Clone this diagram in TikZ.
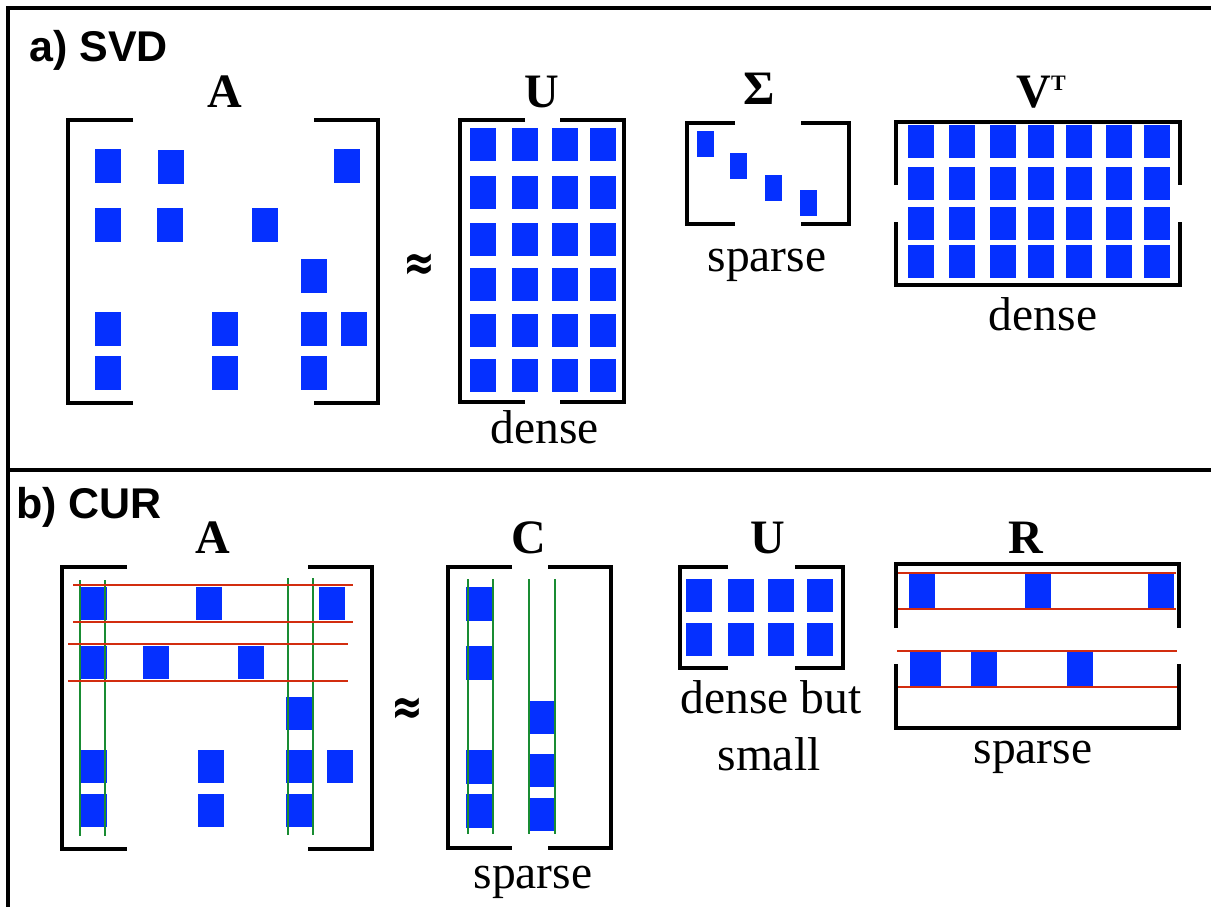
\documentclass[tikz,border=0pt]{standalone}
\usepackage{fontspec}
\setmainfont{Liberation Serif}
\newfontfamily\headfont{Liberation Sans}
\newfontfamily\symfont{DejaVu Sans}
\definecolor{cellblue}{RGB}{5,48,255}
\definecolor{selgreen}{RGB}{25,140,50}
\definecolor{selred}{RGB}{210,45,15}

% square brackets on the left and right (L, R, top, bottom, end of left arm, start of right arm)
\newcommand\vbrackets[6]{%
  \draw[brk] (#5,#3) -- (#1,#3) -- (#1,#4) -- (#5,#4);
  \draw[brk] (#6,#3) -- (#2,#3) -- (#2,#4) -- (#6,#4);}
% brackets turned on their side (L, R, top, bottom, end of upper legs, start of lower legs)
\newcommand\hbrackets[6]{%
  \draw[brk] (#1,#5) -- (#1,#3) -- (#2,#3) -- (#2,#5);
  \draw[brk] (#1,#6) -- (#1,#4) -- (#2,#4) -- (#2,#6);}

\begin{document}
\begin{tikzpicture}[x=1pt,y=-1pt,
  brk/.style={line width=4pt, line join=miter},
  frameline/.style={line width=3.5pt},
  cell/.style={fill=cellblue},
  colsel/.style={draw=selgreen, line width=2.5pt},
  rowsel/.style={draw=selred, line width=2.5pt},
  lbl/.style={inner sep=0pt, anchor=base, font=\fontsize{48}{56}\selectfont\bfseries},
  word/.style={inner sep=0pt, anchor=base, font=\fontsize{47.5}{56}\selectfont},
  head/.style={inner sep=0pt, anchor=base west, font=\headfont\bfseries\fontsize{43}{50}\selectfont},
  approx/.style={inner sep=0pt, yscale=1.35, font=\symfont\bfseries\fontsize{38}{44}\selectfont}
]
\useasboundingbox (0,0) rectangle (1211,907);

% outer frame and separator
\draw[frameline] (8,907) -- (8,8) -- (1211,8);
\draw[frameline] (8,470) -- (1211,470);

% ---------- a) SVD ----------
\node[head] (hsvd) at (29,62) {a) SVD};

% A
\node[lbl] (la) at (225,107) {A};
\foreach \x/\y in {95/149,158/150,334/149,95/208,157/208,252/208,301/259,
                   95/312,212/312,301/312,341/312,95/356,212/356,301/356}
  \fill[cell] (\x,\y) rectangle ++(26,34);
\vbrackets{68}{378}{120}{403}{133}{314}
\node[approx] (ap1) at (419,267) {≈};

% U
\node[lbl] (lu) at (542,107) {U};
\foreach \x in {470,512,552,590}
  \foreach \y in {128,176,223,268,314,359}
    \fill[cell] (\x,\y) rectangle ++(26,33);
\vbrackets{460}{624}{120}{402}{525}{560}
\node[word] (du) at (545,443) {dense};

% Sigma
\node[lbl] (ls) at (759,104) {Σ};
\foreach \x/\y in {697/131,730/153,765/175,800/190}
  \fill[cell] (\x,\y) rectangle ++(17,26);
\vbrackets{687}{849}{123}{224}{735}{801}
\node[word] (ss) at (767,271) {sparse};

% V transpose
\node[lbl] (lv) at (1041,107) {V\raisebox{17pt}{\fontsize{22}{22}\selectfont T}};
\foreach \x in {908,949,990,1028,1066,1106,1144}
  \foreach \y in {125,167,207,245}
    \fill[cell] (\x,\y) rectangle ++(26,33);
\hbrackets{896}{1180}{122}{285}{185}{222}
\node[word] (dv) at (1043,330) {dense};

% ---------- b) CUR ----------
\node[head] (hcur) at (16,518) {b) CUR};

% A with selected columns and rows
\node[lbl] (lb) at (213,553) {A};
\foreach \x/\y in {81/587,196/587,319/587,81/646,143/646,238/646,286/697,
                   81/750,198/750,286/750,327/750,81/794,198/794,286/794}
  \fill[cell] (\x,\y) rectangle ++(26,33);
\draw[colsel] (80,580) -- (80,836);
\draw[colsel] (105,580) -- (105,836);
\draw[colsel] (288,578) -- (288,835);
\draw[colsel] (313,578) -- (313,835);
\draw[rowsel] (73,585) -- (353,585);
\draw[rowsel] (73,622) -- (353,622);
\draw[rowsel] (68,644) -- (348,644);
\draw[rowsel] (68,681) -- (348,681);
\vbrackets{62}{372}{567}{849}{127}{308}
\node[approx] (ap2) at (407,711) {≈};

% C
\node[lbl] (lc) at (529,553) {C};
\foreach \y in {587,646,750,794}
  \fill[cell] (466,\y) rectangle ++(27,34);
\foreach \y in {701,754,798}
  \fill[cell] (530,\y) rectangle ++(24,33);
\foreach \x in {468,493,529,555}
  \draw[colsel] (\x,579) -- (\x,834);
\vbrackets{448}{611}{567}{848}{512}{548}
\node[word] (sc) at (533,888) {sparse};

% U
\node[lbl] (lu2) at (768,553) {U};
\foreach \x in {686,728,768,807}
  \foreach \y in {579,623}
    \fill[cell] (\x,\y) rectangle ++(26,33);
\vbrackets{680}{843}{567}{668}{728}{795}
\node[word] (du2) at (771,713) {dense but};
\node[word] (sm2) at (769,770) {small};

% R with selected rows
\node[lbl] (lr) at (1026,553) {R};
\foreach \x/\y in {909/574,1025/574,1148/574,971/652,1067/652}
  \fill[cell] (\x,\y) rectangle ++(26,34);
\fill[cell] (910,652) rectangle ++(31,34);
\draw[rowsel] (896,573) -- (1176,573);
\draw[rowsel] (896,609) -- (1176,609);
\draw[rowsel] (897,651) -- (1177,651);
\draw[rowsel] (897,687) -- (1177,687);
\hbrackets{896}{1179}{564}{728}{628}{664}
\node[word] (sr) at (1033,763) {sparse};
\end{tikzpicture}
\end{document}
